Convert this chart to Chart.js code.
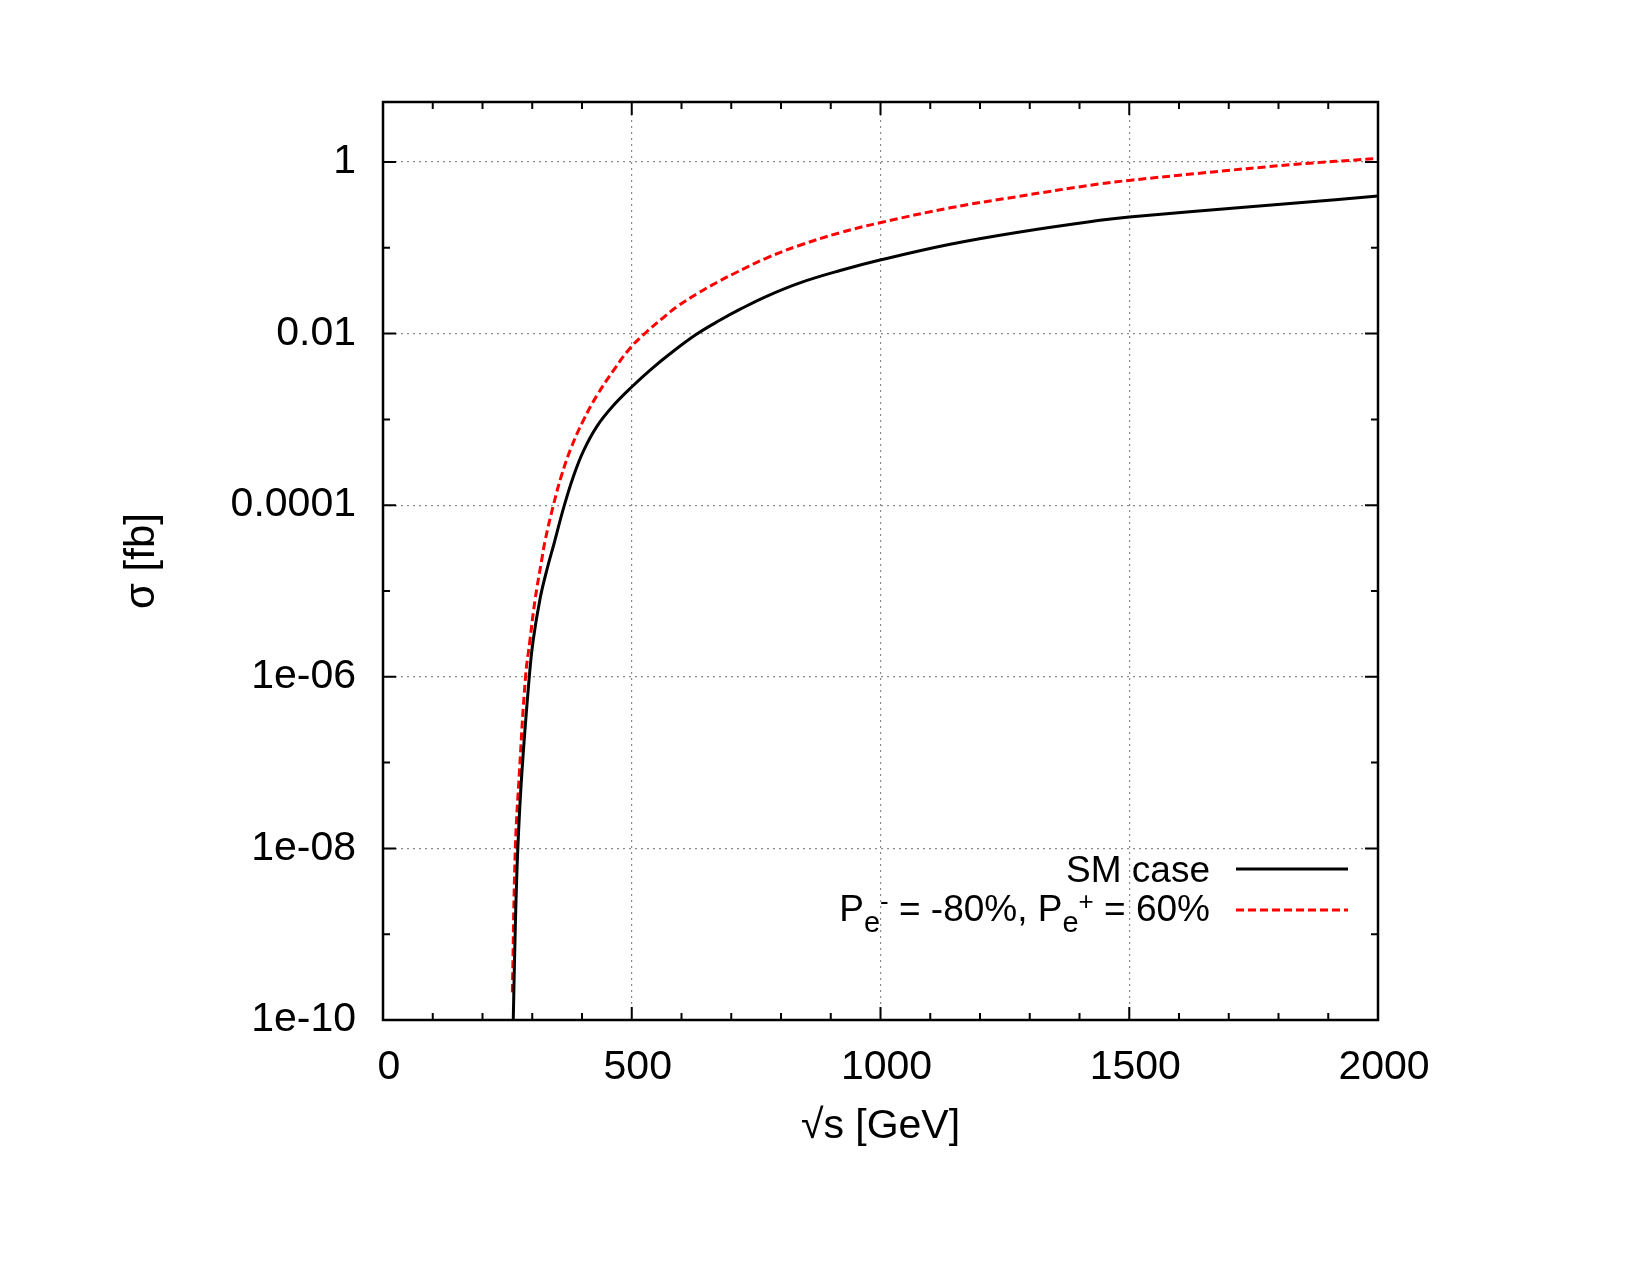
<!DOCTYPE html>
<html>
<head>
<meta charset="utf-8">
<title>sigma vs sqrt(s)</title>
<script src="https://cdn.jsdelivr.net/npm/chart.js@4.4.0/dist/chart.umd.min.js"></script>
<style>
  body { margin: 0; background: #fff; }
  canvas { display: block; }
</style>
</head>
<body>
<canvas id="sigmaChart" width="1650" height="1275"></canvas>
<script>
// SM case (black, solid)
var smEnergy = [261.5, 266, 271, 279, 294, 302, 316, 330, 344, 363, 383, 403, 430, 463, 502, 537, 577,
  630, 677, 720, 771, 838, 919, 1001, 1140, 1274, 1441, 1500, 1743, 1829, 2000];
var smSigma = [8e-11, 1.26e-9, 1.0e-8, 7.4e-8, 1.0e-6, 2.7e-6, 8.3e-6, 1.82e-5, 3.6e-5, 9.3e-5, 2.19e-4,
  4.3e-4, 8.3e-4, 1.45e-3, 2.45e-3, 3.76e-3, 5.82e-3, 9.8e-3, 1.43e-2, 1.95e-2, 2.72e-2, 3.9e-2,
  5.43e-2, 7.24e-2, 0.110, 0.151, 0.209, 0.229, 0.30, 0.331, 0.40];

// P_e- = -80%, P_e+ = 60% (red, dashed)
var polEnergy = [260, 266, 274, 286.5, 295.5, 305.5, 319, 326, 342.5, 359, 379, 403, 430, 463, 497, 530,
  560, 590, 637, 671, 704, 771, 838, 919, 1001, 1140, 1274, 1441, 1500, 1642, 1829, 2000];
var polSigma = [2.1e-10, 1.0e-8, 7.4e-8, 1.0e-6, 2.7e-6, 7.8e-6, 2.3e-5, 3.9e-5, 1.0e-4, 2.24e-4, 4.8e-4,
  9.8e-4, 1.9e-3, 3.7e-3, 6.8e-3, 1.05e-2, 1.48e-2, 2.04e-2, 3.05e-2, 3.94e-2, 4.95e-2, 7.6e-2, 0.107,
  0.150, 0.197, 0.292, 0.394, 0.556, 0.61, 0.74, 0.933, 1.10];

var xTickValues = [0, 500, 1000, 1500, 2000];
var xTickLabels = ['0', '500', '1000', '1500', '2000'];
var yTickValues = [1e-10, 1e-8, 1e-6, 1e-4, 1e-2, 1];
var yTickLabels = ['1e-10', '1e-08', '1e-06', '0.0001', '0.01', '1'];

var legendSM = 'SM case';
// pieces of the second legend entry: text, kind (main / sub / sup)
var legendPol = [['P', 'main'], ['e', 'sub'], ['-', 'sup'], [' = -80%, P', 'main'], ['e', 'sub'], ['+', 'sup'], [' = 60%', 'main']];

var FONT = '"Liberation Sans", Arial, Helvetica, sans-serif';

function toPoints(xs, ys) {
  return xs.map(function (x, i) { return { x: x, y: ys[i] }; });
}

function xLabelIndex(v) {
  return xTickValues.indexOf(Math.round(v));
}

function yLabelIndex(v) {
  for (var i = 0; i < yTickValues.length; i++) {
    if (Math.abs(Math.log10(v) - Math.log10(yTickValues[i])) < 1e-6) return i;
  }
  return -1;
}

// frame, inward ticks and the key, gnuplot style
var frameAndKey = {
  id: 'frameAndKey',
  afterDatasetsDraw: function (chart) {
    var ctx = chart.ctx;
    var area = chart.chartArea;
    var xs = chart.scales.x;
    var ys = chart.scales.y;

    ctx.save();
    ctx.strokeStyle = '#000';
    ctx.setLineDash([]);
    ctx.lineWidth = 2;
    ctx.beginPath();
    xs.ticks.forEach(function (t) {
      var px = xs.getPixelForValue(t.value);
      var len = xLabelIndex(t.value) >= 0 ? 13 : 7;
      ctx.moveTo(px, area.bottom); ctx.lineTo(px, area.bottom - len);
      ctx.moveTo(px, area.top); ctx.lineTo(px, area.top + len);
    });
    ys.ticks.forEach(function (t) {
      var py = ys.getPixelForValue(t.value);
      var len = yLabelIndex(t.value) >= 0 ? 13 : 7;
      ctx.moveTo(area.left, py); ctx.lineTo(area.left + len, py);
      ctx.moveTo(area.right, py); ctx.lineTo(area.right - len, py);
    });
    ctx.stroke();

    ctx.lineWidth = 2.5;
    ctx.strokeRect(area.left, area.top, area.right - area.left, area.bottom - area.top);

    // key
    var textRight = 1210, lineL = 1236, lineR = 1348;
    var row1 = 869, row2 = 910;
    ctx.fillStyle = '#000';
    ctx.textBaseline = 'alphabetic';
    ctx.textAlign = 'left';

    ctx.font = '37px ' + FONT;
    var w = ctx.measureText(legendSM).width;
    ctx.fillText(legendSM, textRight - w, row1 + 13);
    ctx.lineWidth = 3;
    ctx.strokeStyle = '#000';
    ctx.beginPath(); ctx.moveTo(lineL, row1); ctx.lineTo(lineR, row1); ctx.stroke();

    var sizes = { main: 37, sub: 29, sup: 26 };
    var shifts = { main: 0, sub: 11, sup: -11 };
    var total = 0;
    legendPol.forEach(function (p) {
      ctx.font = sizes[p[1]] + 'px ' + FONT;
      total += ctx.measureText(p[0]).width;
    });
    var x = textRight - total;
    legendPol.forEach(function (p) {
      ctx.font = sizes[p[1]] + 'px ' + FONT;
      ctx.fillText(p[0], x, row2 + 11 + shifts[p[1]]);
      x += ctx.measureText(p[0]).width;
    });
    ctx.strokeStyle = '#ff0000';
    ctx.setLineDash([8, 4]);
    ctx.beginPath(); ctx.moveTo(lineL, row2); ctx.lineTo(lineR, row2); ctx.stroke();
    ctx.restore();
  }
};

function gridColor(isMajor, isEdge) {
  return isMajor && !isEdge ? '#8a8a8a' : 'rgba(0,0,0,0)';
}

var ctx = document.getElementById('sigmaChart').getContext('2d');
var sigmaChart = new Chart(ctx, {
  type: 'line',
  data: {
    datasets: [{
      label: 'SM case',
      data: toPoints(smEnergy, smSigma),
      borderColor: '#000000',
      borderWidth: 3,
      pointRadius: 0,
      tension: 0.4,
      fill: false,
      clip: 0
    }, {
      label: 'P_e- = -80%, P_e+ = 60%',
      data: toPoints(polEnergy, polSigma),
      borderColor: '#ff0000',
      borderWidth: 3,
      borderDash: [8, 4],
      pointRadius: 0,
      tension: 0.4,
      fill: false,
      clip: 0
    }]
  },
  options: {
    responsive: false,
    animation: false,
    devicePixelRatio: 1,
    layout: { padding: { left: 0, top: 102, right: 272, bottom: 0 } },
    plugins: {
      legend: { display: false },
      tooltip: { enabled: false }
    },
    scales: {
      x: {
        type: 'linear',
        min: 0,
        max: 2000,
        afterFit: function (scale) { scale.height = 255; },
        ticks: {
          stepSize: 100,
          autoSkip: false,
          maxRotation: 0,
          padding: 23,
          labelOffset: 6,
          color: '#000',
          font: { family: FONT, size: 41 },
          callback: function (v) {
            var i = xLabelIndex(v);
            return i >= 0 ? xTickLabels[i] : '';
          }
        },
        grid: {
          drawTicks: false,
          lineWidth: 1.2,
          color: function (c) {
            if (!c.tick) return 'rgba(0,0,0,0)';
            var v = c.tick.value;
            return gridColor(xLabelIndex(v) >= 0, v <= 0 || v >= 2000);
          }
        },
        border: { display: false, dash: [2, 4] },
        title: {
          display: true,
          text: '√s [GeV]',
          color: '#000',
          font: { family: FONT, size: 41 },
          padding: { top: 0, bottom: 124 }
        }
      },
      y: {
        type: 'logarithmic',
        min: 1e-10,
        max: 5,
        afterFit: function (scale) { scale.width = 383; },
        afterBuildTicks: function (scale) {
          var t = [];
          for (var e = -10; e <= 0; e++) t.push({ value: Math.pow(10, e) });
          scale.ticks = t;
        },
        ticks: {
          autoSkip: false,
          padding: 27,
          color: '#000',
          font: { family: FONT, size: 41 },
          callback: function (v) {
            var i = yLabelIndex(v);
            return i >= 0 ? yTickLabels[i] : '';
          }
        },
        grid: {
          drawTicks: false,
          lineWidth: 1.2,
          color: function (c) {
            if (!c.tick) return 'rgba(0,0,0,0)';
            var v = c.tick.value;
            return gridColor(yLabelIndex(v) >= 0, v <= 1e-10 * 1.0001);
          }
        },
        border: { display: false, dash: [2, 4] },
        title: {
          display: true,
          text: 'σ [fb]',
          color: '#000',
          font: { family: FONT, size: 42 },
          padding: { top: 117, bottom: 0 }
        }
      }
    }
  },
  plugins: [frameAndKey]
});
</script>
</body>
</html>
